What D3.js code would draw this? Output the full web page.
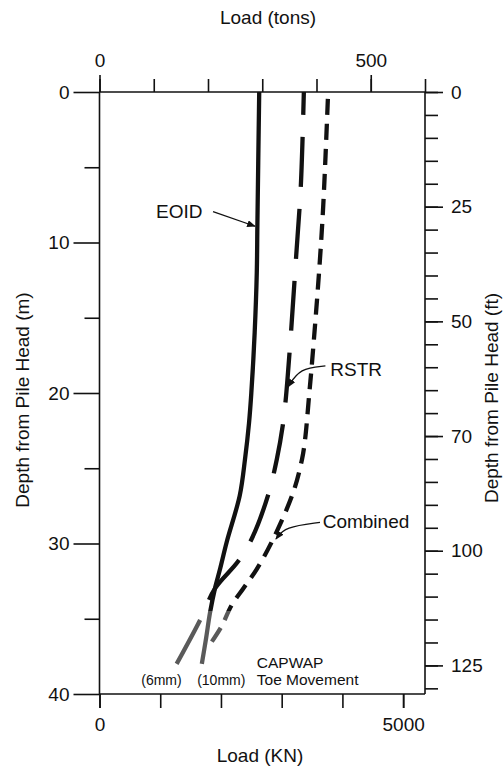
<!DOCTYPE html>
<html lang="en">
<head>
<meta charset="utf-8">
<title>Load distribution along pile</title>
<script src="https://d3js.org/d3.v7.min.js"></script>
<style>
  body { margin: 0; background: #fff; }
  svg text { font-family: "Liberation Sans", Arial, Helvetica, sans-serif; fill: #111; }
  .axis line { stroke: #111; stroke-width: 1.6; }
</style>
</head>
<body>
<script>
// values: depth below pile head (m) and load (kN)
var eoidDepth = [0, 8.8, 12, 16, 20, 22, 24.4, 26.8, 29.9, 31.7, 33.0, 34.6, 36.3, 38.0]
var eoidLoad  = [2630, 2600, 2590, 2555, 2500, 2462, 2396, 2310, 2095, 1985, 1900, 1820, 1755, 1685]

var rstrDepth = [0, 6.25, 11.1, 15.9, 20.5, 22.1, 24.4, 26.8, 29.7, 31.2, 33.0, 35.1, 38.0]
var rstrLoad  = [3365, 3315, 3235, 3155, 3065, 3020, 2920, 2775, 2505, 2280, 1900, 1655, 1270]

var combDepth = [0, 7.5, 12, 18.2, 20, 23.1, 24.4, 26.6, 29.7, 31.7, 33.0, 34.1, 35.5, 36.7]
var combLoad  = [3765, 3685, 3615, 3495, 3455, 3385, 3335, 3190, 2860, 2590, 2365, 2175, 2010, 1820]

var toeDepth = 34.5   // below this the CAPWAP toe part is drawn grey

// axes
var tonsMajor = [0, 500]
var tonsMinor = [0, 100, 200, 300, 400, 500, 600]
var kNTicks = [0, 1000, 2000, 3000, 4000, 5000]
var kNLabels = [0, 5000]
var mMajor = [0, 10, 20, 30, 40]
var mMinor = [5, 15, 25, 35]
var ftMajor = [0, 25, 50, 75, 100, 125]
var ftMajorLabels = ["0", "25", "50", "70", "100", "125"]
var ftMinor = d3.range(0, 131, 5)

var W = 503, H = 767
var pLeft = 99.5, pRight = 425, pTop = 92, pBottom = 694

var svg = d3.select("body").append("svg")
  .attr("width", W)
  .attr("height", H)

var x = d3.scaleLinear().domain([0, 5360]).range([pLeft, pRight])
var xTons = d3.scaleLinear().domain([0, 600]).range([pLeft, pRight])
var y = d3.scaleLinear().domain([0, 40]).range([pTop, pBottom])
var yFt = d3.scaleLinear().domain([0, 40 / 0.3048]).range([pTop, pBottom])

function addAxis(axis, tx, ty) {
  var g = svg.append("g").attr("class", "axis")
    .attr("transform", "translate(" + tx + "," + ty + ")")
    .call(axis)
  g.select(".domain").remove()
  g.selectAll("text").attr("font-size", 19).attr("font-family", null).attr("fill", null)
  return g
}

var plain = d3.format("d")

// top: tons
addAxis(d3.axisTop(xTons).tickValues(tonsMinor).tickSize(13).tickFormat(""), 0, pTop)
addAxis(d3.axisTop(xTons).tickValues(tonsMajor).tickSize(17).tickPadding(8).tickFormat(plain), 0, pTop)

// bottom: kN
addAxis(d3.axisBottom(x).tickValues(kNTicks).tickSize(14).tickFormat(""), 0, pBottom)
addAxis(d3.axisBottom(x).tickValues(kNLabels).tickSize(14).tickPadding(10).tickFormat(plain), 0, pBottom)

// left: m
addAxis(d3.axisLeft(y).tickValues(mMinor).tickSize(15).tickFormat(""), pLeft, 0)
addAxis(d3.axisLeft(y).tickValues(mMajor).tickSize(26).tickPadding(4).tickFormat(plain), pLeft, 0)

// right: ft
addAxis(d3.axisRight(yFt).tickValues(ftMinor).tickSize(13).tickFormat(""), pRight, 0)
addAxis(d3.axisRight(yFt).tickValues(ftMajor).tickSize(18).tickPadding(8)
  .tickFormat(function (d, i) { return ftMajorLabels[i] }), pRight, 0)

// frame
var frame = svg.append("g").attr("stroke", "#111").attr("stroke-width", 1.6)
frame.append("line").attr("x1", pLeft).attr("x2", pRight).attr("y1", pTop).attr("y2", pTop)
frame.append("line").attr("x1", pLeft).attr("x2", pLeft).attr("y1", pTop).attr("y2", pBottom)
frame.append("line").attr("x1", pRight).attr("x2", pRight).attr("y1", pTop).attr("y2", pBottom)
frame.append("line").attr("x1", pLeft).attr("x2", pRight).attr("y1", pBottom).attr("y2", pBottom)

// axis titles
svg.append("text").attr("x", 268).attr("y", 24).attr("text-anchor", "middle")
  .attr("font-size", 19).text("Load (tons)")
svg.append("text").attr("x", 260).attr("y", 762).attr("text-anchor", "middle")
  .attr("font-size", 19).text("Load (KN)")
svg.append("text").attr("text-anchor", "middle").attr("font-size", 19)
  .attr("transform", "translate(29,400) rotate(-90)")
  .text("Depth from Pile Head (m)")
svg.append("text").attr("text-anchor", "middle").attr("font-size", 19)
  .attr("transform", "translate(498,398) rotate(-90)")
  .text("Depth from Pile Head (ft)")

// grey toe gradient
var defs = svg.append("defs")
var grad = defs.append("linearGradient").attr("id", "toe")
  .attr("gradientUnits", "userSpaceOnUse")
  .attr("x1", 0).attr("x2", 0).attr("y1", pTop).attr("y2", pBottom)
var f = (y(toeDepth) - pTop) / (pBottom - pTop)
grad.append("stop").attr("offset", f).attr("stop-color", "#111")
grad.append("stop").attr("offset", f).attr("stop-color", "#5a5a5a")

defs.append("marker").attr("id", "arrow")
  .attr("viewBox", "0 0 10 8").attr("refX", 9).attr("refY", 4)
  .attr("markerWidth", 9).attr("markerHeight", 7)
  .attr("markerUnits", "userSpaceOnUse").attr("orient", "auto")
  .append("path").attr("d", "M0,0 L10,4 L0,8 z").attr("fill", "#111")

// curves
var line = d3.line()
  .x(function (d) { return x(d[1]) })
  .y(function (d) { return y(d[0]) })
  .curve(d3.curveCatmullRom.alpha(0.5))

var series = [
  { depth: eoidDepth, load: eoidLoad, dash: null, offset: 0 },
  { depth: rstrDepth, load: rstrLoad, dash: "50,22", offset: 27 },
  { depth: combDepth, load: combLoad, dash: "16,9", offset: 18 }
]

series.forEach(function (s) {
  var pts = s.depth.map(function (d, i) { return [d, s.load[i]] })
  svg.append("path")
    .attr("d", line(pts))
    .attr("fill", "none")
    .attr("stroke", "url(#toe)")
    .attr("stroke-width", 4.3)
    .attr("stroke-dasharray", s.dash)
    .attr("stroke-dashoffset", s.offset)
})

// labels and pointers (positions in data units)
var notes = [
  { text: "EOID", at: [930, 7.9], path: [[1870, 7.95], [2561, 8.92]], curved: false },
  { text: "RSTR", at: [3800, 18.4], path: [[3720, 18.2], [3300, 18.35], [3104, 19.6]], curved: true },
  { text: "Combined", at: [3675, 28.5], path: [[3631, 28.6], [3050, 28.9], [2906, 29.7]], curved: true }
]
notes.forEach(function (n) {
  svg.append("text").attr("x", x(n.at[0])).attr("y", y(n.at[1]) + 7)
    .attr("font-size", 19).text(n.text)
  var p = n.path.map(function (d) { return [x(d[0]), y(d[1])] })
  var g = d3.line().curve(n.curved ? d3.curveBasis : d3.curveLinear)
  svg.append("path").attr("d", g(p)).attr("fill", "none")
    .attr("stroke", "#111").attr("stroke-width", 1.3)
    .attr("marker-end", "url(#arrow)")
})

// toe movement notes
svg.append("text").attr("x", x(1020)).attr("y", y(39.4)).attr("text-anchor", "middle")
  .attr("font-size", 14).text("(6mm)")
svg.append("text").attr("x", x(2005)).attr("y", y(39.4)).attr("text-anchor", "middle")
  .attr("font-size", 14).text("(10mm)")
svg.append("text").attr("x", x(2590)).attr("y", y(38.3)).attr("font-size", 15.5).text("CAPWAP")
svg.append("text").attr("x", x(2590)).attr("y", y(39.4)).attr("font-size", 15.5).text("Toe Movement")
</script>
</body>
</html>
